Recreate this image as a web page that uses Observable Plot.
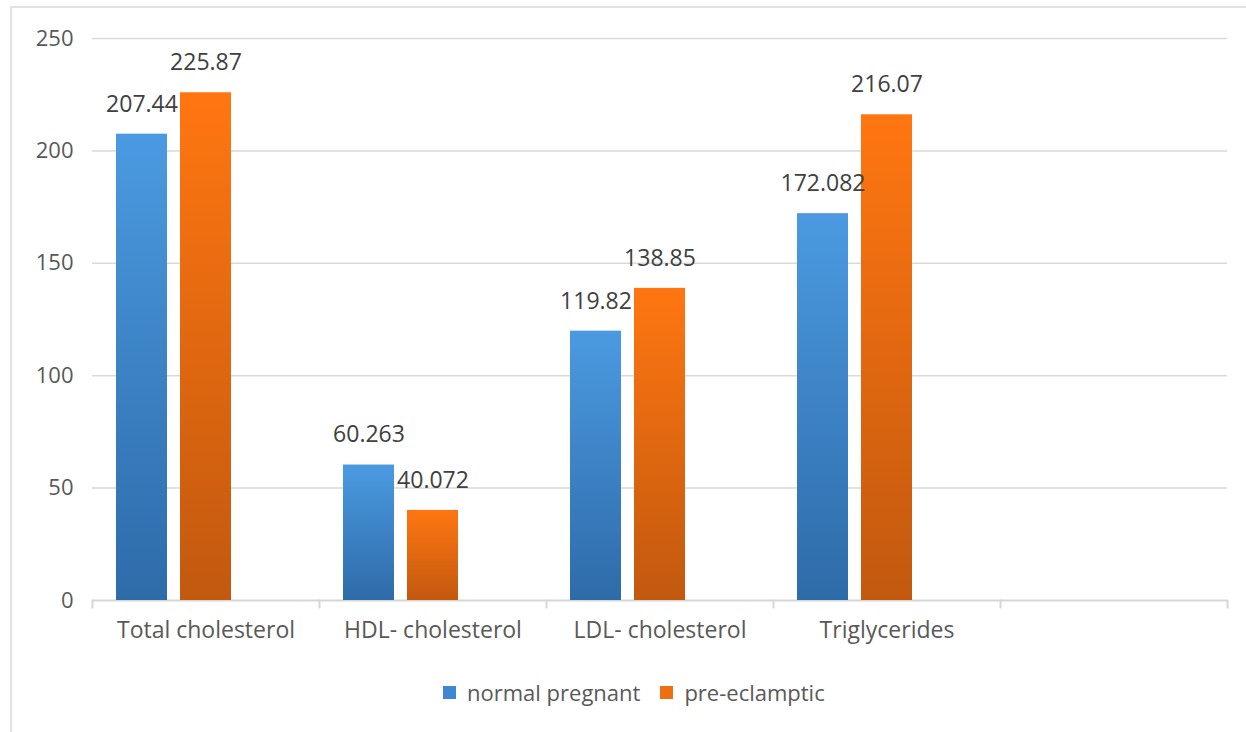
<!DOCTYPE html>
<html><head><meta charset="utf-8">
<script src="https://cdn.jsdelivr.net/npm/d3@7"></script>
<script src="https://cdn.jsdelivr.net/npm/@observablehq/plot@0.6"></script>
<style>
body{margin:0;background:#fff;font-family:"Open Sans",sans-serif;}
#wrap{position:relative;width:1246px;height:732px;overflow:hidden;background:#fff;}
#frame{position:absolute;left:10px;top:6px;width:1300px;height:800px;border-left:2px solid #e2e2e2;border-top:2px solid #e2e2e2;}
#chart{position:absolute;left:0;top:0;}
#legend{position:absolute;top:677px;left:443px;display:flex;align-items:center;font-size:22px;color:#595959;white-space:nowrap;}
.sw{width:13px;height:13px;display:inline-block;margin-right:11px;}
.item{display:flex;align-items:center;margin-right:20px;}
</style>
</head><body>
<div id="wrap"><div id="frame"></div><div id="chart"></div><div id="legend"></div></div>
<script>
const categories = ["Total cholesterol", "HDL- cholesterol", "LDL- cholesterol", "Triglycerides", ""];
const seriesNames = ["normal pregnant", "pre-eclamptic"];
const normalPregnant = [207.44, 60.263, 119.82, 172.082];
const preEclamptic = [225.87, 40.072, 138.85, 216.07];
const normalLabels = ["207.44", "60.263", "119.82", "172.082"];
const preLabels = ["225.87", "40.072", "138.85", "216.07"];
const yTicks = [0, 50, 100, 150, 200, 250];
const slots = ["normal pregnant", "pre-eclamptic", "(unused)"];
const seriesColors = {"normal pregnant": ["#4b9ae1", "#2e6ba9", "#3f87d2"], "pre-eclamptic": ["#ff7611", "#c2590f", "#ee6f12"]};

const rows = [];
normalPregnant.forEach((v, i) => {
  rows.push({category: categories[i], series: seriesNames[0], value: v, label: normalLabels[i]});
  rows.push({category: categories[i], series: seriesNames[1], value: preEclamptic[i], label: preLabels[i]});
});
const gridRows = categories.flatMap(c => yTicks.map(t => ({category: c, t})));
const tickRows = categories.map(c => ({category: c}));

const defs = () => {
  const d = d3.create("svg:defs");
  [["gBlue", seriesNames[0]], ["gOrange", seriesNames[1]]].forEach(([id, s]) => {
    const g = d.append("linearGradient").attr("id", id).attr("x1", 0).attr("y1", 0).attr("x2", 0).attr("y2", 1);
    g.append("stop").attr("offset", "0%").attr("stop-color", seriesColors[s][0]);
    g.append("stop").attr("offset", "100%").attr("stop-color", seriesColors[s][1]);
  });
  return d.node();
};
const tickShape = {draw(context, l) { context.moveTo(0, 0); context.lineTo(0, -l); }};

const chart = Plot.plot({
  width: 1246, height: 660,
  marginLeft: 90, marginRight: 18, marginTop: 38, marginBottom: 60,
  style: {fontFamily: "'Open Sans', sans-serif", background: "transparent"},
  fx: {domain: categories, padding: 0, label: null},
  x: {domain: slots, paddingInner: 0.2, paddingOuter: 0.36, axis: null},
  y: {domain: [0, 250], label: null},
  marks: [
    defs,
    Plot.ruleY(gridRows.filter(d => d.t > 0), {fx: "category", y: "t", stroke: "#d9d9d9", strokeWidth: 1.5}),
    Plot.ruleY(gridRows.filter(d => d.t === 0), {fx: "category", y: "t", stroke: "#d6d6d6", strokeWidth: 2}),
    Plot.vector(tickRows, {fx: "category", frameAnchor: "bottom-left", length: 7, rotate: 180, anchor: "start", shape: tickShape, stroke: "#d6d6d6", strokeWidth: 2}),
    Plot.vector(tickRows.slice(-1), {fx: "category", frameAnchor: "bottom-right", length: 7, rotate: 180, anchor: "start", shape: tickShape, stroke: "#d6d6d6", strokeWidth: 2}),
    Plot.barY(rows.filter(d => d.series === seriesNames[0]), {fx: "category", x: "series", y: "value", fill: "url(#gBlue)"}),
    Plot.barY(rows.filter(d => d.series === seriesNames[1]), {fx: "category", x: "series", y: "value", fill: "url(#gOrange)"}),
    Plot.text(rows, {fx: "category", x: "series", y: "value", text: "label", dy: -30, fontSize: 23, fill: "#404040"}),
    Plot.axisY({ticks: yTicks, tickSize: 0, tickPadding: 19, fontSize: 22, fill: "#595959", label: null}),
    Plot.axisFx({anchor: "bottom", tickSize: 0, tickPadding: 21, fontSize: 23, fill: "#595959", label: null})
  ]
});
document.getElementById("chart").appendChild(chart);

const legend = document.getElementById("legend");
seriesNames.forEach(s => {
  const item = document.createElement("div");
  item.className = "item";
  const sw = document.createElement("span");
  sw.className = "sw";
  sw.style.background = seriesColors[s][2];
  item.appendChild(sw);
  item.appendChild(document.createTextNode(s));
  legend.appendChild(item);
});
</script>
</body></html>
